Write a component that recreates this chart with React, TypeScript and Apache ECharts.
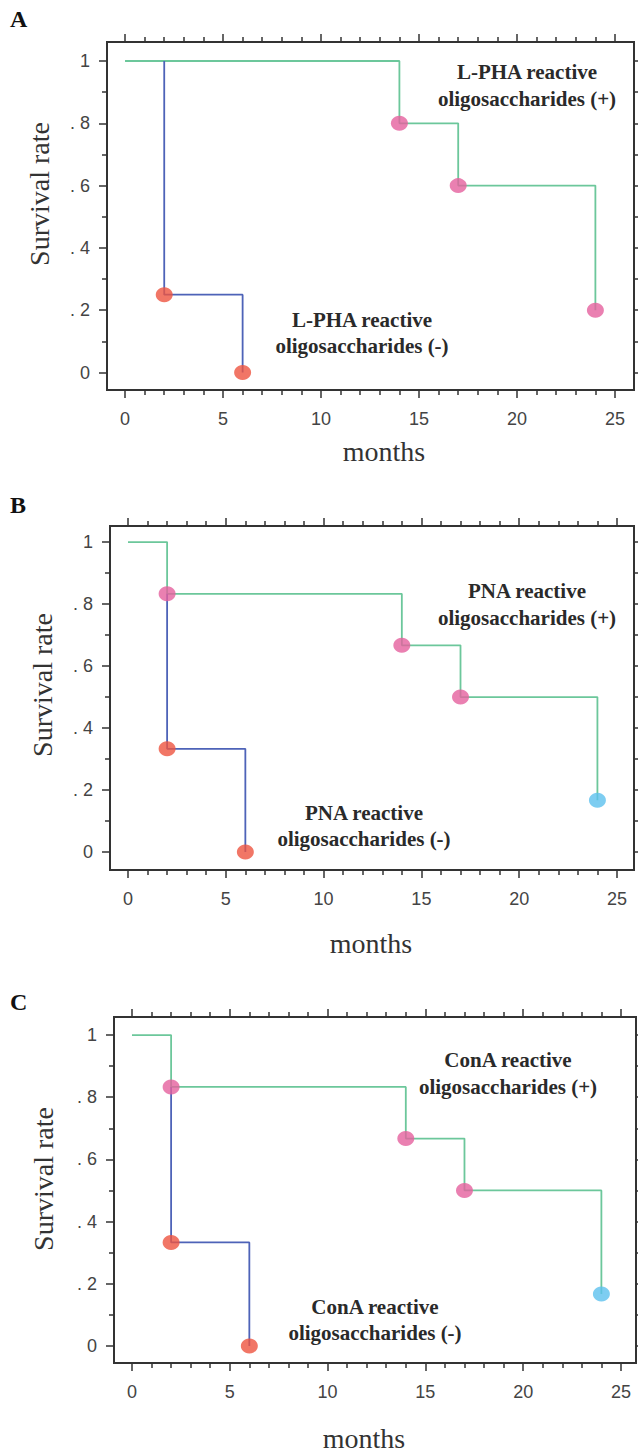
import React, { useEffect, useRef } from "react";
import * as echarts from "echarts";

// ---- data ----
// Panel A (L-PHA)
const aPlusTimes = [0, 14, 17, 24];
const aPlusSurv = [1, 0.8, 0.6, 0.2];
const aPlusMarks = ["pink", "pink", "pink"];
const aMinusTimes = [2, 2, 6];
const aMinusSurv = [1, 0.25, 0];
// Panel B (PNA)
const bPlusTimes = [0, 2, 14, 17, 24];
const bPlusSurv = [1, 0.833, 0.667, 0.5, 0.167];
const bPlusMarks = ["pink", "pink", "pink", "cyan"];
const bMinusTimes = [2, 2, 6];
const bMinusSurv = [0.833, 0.333, 0];
// Panel C (ConA)
const cPlusTimes = [0, 2, 14, 17, 24];
const cPlusSurv = [1, 0.833, 0.667, 0.5, 0.167];
const cPlusMarks = ["pink", "pink", "pink", "cyan"];
const cMinusTimes = [2, 2, 6];
const cMinusSurv = [0.833, 0.333, 0];

const X_MAJOR = [0, 5, 10, 15, 20, 25];
const X_MINOR = [1, 2, 3, 4, 6, 7, 8, 9, 11, 12, 13, 14, 16, 17, 18, 19, 21, 22, 23, 24];
const Y_MAJOR = [0, 0.2, 0.4, 0.6, 0.8, 1];
const Y_MINOR = [0.1, 0.3, 0.5, 0.7, 0.9];
const Y_LABELS = ["0", ". 2", ". 4", ". 6", ". 8", "1"];

// ---- styles ----
const AX = "#333333";
const GREEN = "#6cc79b";
const BLUE = "#4e63b8";
const MARK_COLORS: Record<string, string> = { pink: "#e5609e", red: "#ee5440", cyan: "#5cc1ee" };
const SANS = "'Liberation Sans Narrow', 'Liberation Sans', Arial, sans-serif";
const SERIF = "'Liberation Serif', 'Times New Roman', serif";

const panels = [
  {
    letter: "A", lectin: "L-PHA",
    plusT: aPlusTimes, plusS: aPlusSurv, plusM: aPlusMarks,
    minusT: aMinusTimes, minusS: aMinusSurv,
    box: { left: 107, top: 42, right: 634, bottom: 390 },
    xr: [-0.92, 25.97], yr: [-0.056, 1.061],
    plusLab: [527, 72], minusLab: [362, 320], months: [384, 451], ylab: [39, 194], letterPos: [10, 19],
  },
  {
    letter: "B", lectin: "PNA",
    plusT: bPlusTimes, plusS: bPlusSurv, plusM: bPlusMarks,
    minusT: bMinusTimes, minusS: bMinusSurv,
    box: { left: 110, top: 526, right: 634, bottom: 870 },
    xr: [-0.92, 25.87], yr: [-0.058, 1.052],
    plusLab: [527, 591], minusLab: [364, 813], months: [371, 943], ylab: [42, 685], letterPos: [10, 505],
  },
  {
    letter: "C", lectin: "ConA",
    plusT: cPlusTimes, plusS: cPlusSurv, plusM: cPlusMarks,
    minusT: cMinusTimes, minusS: cMinusSurv,
    box: { left: 114, top: 1017, right: 636, bottom: 1363 },
    xr: [-0.92, 25.77], yr: [-0.055, 1.058],
    plusLab: [508, 1060], minusLab: [375, 1307], months: [364, 1438], ylab: [43, 1179], letterPos: [10, 1002],
  },
];

function buildOption() {
  const grid: any[] = [];
  const xAxis: any[] = [];
  const yAxis: any[] = [];
  const series: any[] = [];
  const graphic: any[] = [];

  panels.forEach((p, gi) => {
    grid.push({
      left: p.box.left,
      top: p.box.top,
      width: p.box.right - p.box.left,
      height: p.box.bottom - p.box.top,
      show: true,
      borderColor: AX,
      borderWidth: 2,
      backgroundColor: "transparent",
      containLabel: false,
      outerBoundsMode: "none",
    });
    const base = {
      gridIndex: gi,
      type: "value",
      splitLine: { show: false },
      axisLine: { show: false, onZero: false },
    };
    const tick = (vals: number[], len: number) => ({
      show: true,
      customValues: vals,
      length: len,
      inside: false,
      lineStyle: { color: AX, width: 1.5 },
    });
    const noLabel = { show: false };
    // x axes: bottom major (with labels), bottom minor, top major, top minor
    xAxis.push({
      ...base, min: p.xr[0], max: p.xr[1], position: "bottom",
      axisTick: tick(X_MAJOR, 8),
      axisLabel: { show: true, customValues: X_MAJOR, margin: 20, fontSize: 18, color: "#444", fontFamily: SANS },
    });
    xAxis.push({ ...base, min: p.xr[0], max: p.xr[1], position: "bottom", axisTick: tick(X_MINOR, 5), axisLabel: noLabel });
    xAxis.push({ ...base, min: p.xr[0], max: p.xr[1], position: "top", axisTick: tick(X_MAJOR, 8), axisLabel: noLabel });
    xAxis.push({ ...base, min: p.xr[0], max: p.xr[1], position: "top", axisTick: tick(X_MINOR, 5), axisLabel: noLabel });
    // y axes
    yAxis.push({
      ...base, min: p.yr[0], max: p.yr[1], position: "left",
      axisTick: tick(Y_MAJOR, 8),
      axisLabel: {
        show: true, customValues: Y_MAJOR, margin: 17, fontSize: 18, color: "#444", fontFamily: SANS,
        formatter: (v: number) => {
          const i = Y_MAJOR.findIndex((m) => Math.abs(m - v) < 1e-6);
          return i >= 0 ? Y_LABELS[i] : "";
        },
      },
    });
    yAxis.push({ ...base, min: p.yr[0], max: p.yr[1], position: "left", axisTick: tick(Y_MINOR, 5), axisLabel: noLabel });
    yAxis.push({ ...base, min: p.yr[0], max: p.yr[1], position: "right", axisTick: tick(Y_MAJOR, 6), axisLabel: noLabel });
    yAxis.push({ ...base, min: p.yr[0], max: p.yr[1], position: "right", axisTick: tick(Y_MINOR, 5), axisLabel: noLabel });

    const xi = gi * 4;
    const yi = gi * 4;
    const plusData = p.plusT.map((t, i) => [t, p.plusS[i]]);
    const minusData = p.minusT.map((t, i) => [t, p.minusS[i]]);
    series.push({
      type: "line", xAxisIndex: xi, yAxisIndex: yi, step: "end", data: plusData,
      showSymbol: false, symbol: "none", lineStyle: { color: GREEN, width: 1.8 }, silent: true, z: 2,
    });
    series.push({
      type: "line", xAxisIndex: xi, yAxisIndex: yi, step: "end", data: minusData,
      showSymbol: false, symbol: "none", lineStyle: { color: BLUE, width: 1.8 }, silent: true, z: 3,
    });
    series.push({
      type: "scatter", xAxisIndex: xi, yAxisIndex: yi, symbol: "circle", symbolSize: [17, 15], z: 5,
      data: plusData.slice(1).map((d, i) => ({ value: d, itemStyle: { color: MARK_COLORS[p.plusM[i]] } })),
    });
    series.push({
      type: "scatter", xAxisIndex: xi, yAxisIndex: yi, symbol: "circle", symbolSize: [17, 15], z: 5,
      data: minusData.slice(1).map((d) => ({ value: d, itemStyle: { color: MARK_COLORS.red } })),
    });

    const boldText = (text: string, x: number, y: number) => ({
      type: "text", x, y, silent: true,
      style: { text, fill: "#2a2a2a", font: `bold 21px ${SERIF}`, align: "center", verticalAlign: "middle" },
    });
    graphic.push(boldText(`${p.lectin} reactive`, p.plusLab[0], p.plusLab[1]));
    graphic.push(boldText("oligosaccharides (+)", p.plusLab[0], p.plusLab[1] + 27));
    graphic.push(boldText(`${p.lectin} reactive`, p.minusLab[0], p.minusLab[1]));
    graphic.push(boldText("oligosaccharides (-)", p.minusLab[0], p.minusLab[1] + 26));
    graphic.push({
      type: "text", x: p.months[0], y: p.months[1], silent: true,
      style: { text: "months", fill: "#333", font: `28px ${SERIF}`, align: "center", verticalAlign: "middle" },
    });
    graphic.push({
      type: "text", x: p.ylab[0], y: p.ylab[1], rotation: Math.PI / 2, silent: true,
      style: { text: "Survival rate", fill: "#333", font: `28px ${SERIF}`, align: "center", verticalAlign: "middle" },
    });
    graphic.push({
      type: "text", x: p.letterPos[0], y: p.letterPos[1], silent: true,
      style: { text: p.letter, fill: "#111", font: `bold 24px ${SERIF}`, align: "left", verticalAlign: "middle" },
    });
  });

  return {
    animation: false,
    backgroundColor: "#ffffff",
    grid,
    xAxis,
    yAxis,
    series,
    graphic,
  };
}

export default function App() {
  const ref = useRef<HTMLDivElement>(null);
  useEffect(() => {
    if (!ref.current) return;
    const chart = echarts.init(ref.current, null, { renderer: "svg", width: 638, height: 1453 });
    chart.setOption(buildOption() as any);
    return () => chart.dispose();
  }, []);
  return (
    <div
      ref={ref}
      style={{ position: "absolute", left: 0, top: 0, width: 638, height: 1453, background: "#fff" }}
    />
  );
}
